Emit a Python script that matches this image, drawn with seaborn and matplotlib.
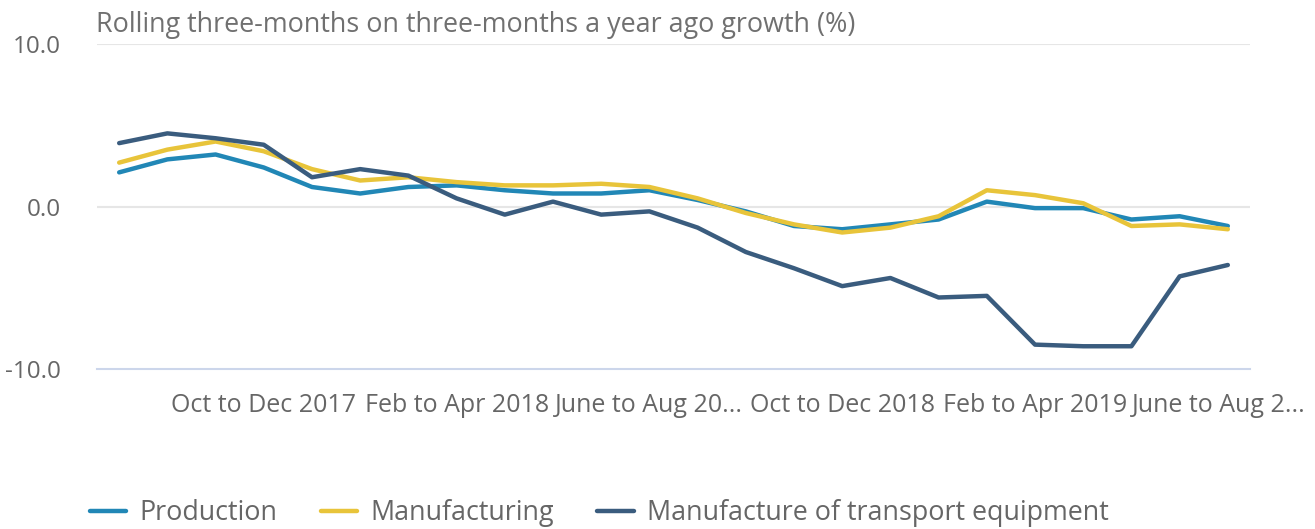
import numpy as np
import matplotlib.pyplot as plt
import matplotlib.transforms as mtransforms
import pandas as pd
import seaborn as sb

# rolling three-month periods
periods = ["Jul to Sept 2017", "Aug to Oct 2017", "Sept to Nov 2017", "Oct to Dec 2017",
           "Nov 2017 to Jan 2018", "Dec 2017 to Feb 2018", "Jan to Mar 2018", "Feb to Apr 2018",
           "Mar to May 2018", "Apr to June 2018", "May to July 2018", "June to Aug 2018",
           "July to Sept 2018", "Aug to Oct 2018", "Sept to Nov 2018", "Oct to Dec 2018",
           "Nov 2018 to Jan 2019", "Dec 2018 to Feb 2019", "Jan to Mar 2019", "Feb to Apr 2019",
           "Mar to May 2019", "Apr to June 2019", "May to July 2019", "June to Aug 2019"]

production = [2.1, 2.9, 3.2, 2.4, 1.2, 0.8, 1.2, 1.3, 1.0, 0.8, 0.8, 1.0,
              0.4, -0.3, -1.2, -1.4, -1.1, -0.8, 0.3, -0.1, -0.1, -0.8, -0.6, -1.2]
manufacturing = [2.7, 3.5, 4.0, 3.4, 2.3, 1.6, 1.8, 1.5, 1.3, 1.3, 1.4, 1.2,
                 0.5, -0.4, -1.1, -1.6, -1.3, -0.6, 1.0, 0.7, 0.2, -1.2, -1.1, -1.4]
transport = [3.9, 4.5, 4.2, 3.8, 1.8, 2.3, 1.9, 0.5, -0.5, 0.3, -0.5, -0.3,
             -1.3, -2.8, -3.8, -4.9, -4.4, -5.6, -5.5, -8.5, -8.6, -8.6, -4.3, -3.6]

series_names = ["Production", "Manufacturing", "Manufacture of transport equipment"]
colors = ["#2187b6", "#e8c43a", "#3a5c7e"]

tick_pos = [3, 7, 11, 15, 19, 23]
tick_labels = ["Oct to Dec 2017", "Feb to Apr 2018", "June to Aug 20...",
               "Oct to Dec 2018", "Feb to Apr 2019", "June to Aug 2..."]

df = pd.DataFrame({
    "pos": list(range(len(periods))) * 3,
    "value": production + manufacturing + transport,
    "series": [s for s in series_names for _ in periods],
})

sb.set_style("white")
plt.rcParams["font.family"] = ["Open Sans", "DejaVu Sans"]

fig = plt.figure(figsize=(13.15, 5.29), dpi=100)
ax = fig.add_axes([97 / 1315, 1 - 369 / 529, (1250 - 97) / 1315, (369 - 44) / 529])

sb.lineplot(data=df, x="pos", y="value", hue="series", palette=colors,
            linewidth=3.2, ax=ax, legend=True)

ax.set_xlim(-0.46, 23.46)
ax.set_ylim(-10, 10)
ax.set_yticks([-10, 0, 10])
ax.set_yticklabels(["-10.0", "0.0", "10.0"])
ax.set_xticks(tick_pos)
ax.set_xticklabels(tick_labels)
ax.set_xlabel("")
ax.set_ylabel("")

for y in [0, 10]:
    ax.axhline(y, color="#e6e6e6", linewidth=1.5, zorder=0)

for s in ["left", "right", "top"]:
    ax.spines[s].set_visible(False)
ax.spines["bottom"].set_color("#ccd6eb")
ax.spines["bottom"].set_linewidth(1.5)

ax.tick_params(axis="x", length=15, width=1.2, color="#ccd6eb", pad=2,
               labelsize=18, labelcolor="#666666")
ax.tick_params(axis="y", length=0, pad=26, labelsize=17.5, labelcolor="#666666")

# last label is nudged left so it fits in the canvas
last = ax.get_xticklabels()[-1]
last.set_transform(last.get_transform() + mtransforms.ScaledTranslation(-9 / 100, 0, fig.dpi_scale_trans))

fig.text(96 / 1315, 1 - 25 / 529, "Rolling three-months on three-months a year ago growth (%)",
         fontsize=19.4, color="#707070", va="center", ha="left")

handles, labels = ax.get_legend_handles_labels()
ax.legend(handles, labels, loc="center left", bbox_to_anchor=(90 / 1315, 1 - 513 / 529),
          bbox_transform=fig.transFigure, ncol=3, frameon=False, fontsize=19.4,
          handlelength=1.35, handletextpad=0.5, columnspacing=1.6, labelcolor="#666666",
          borderaxespad=0, borderpad=0)

fig.savefig("out.png", dpi=100)
